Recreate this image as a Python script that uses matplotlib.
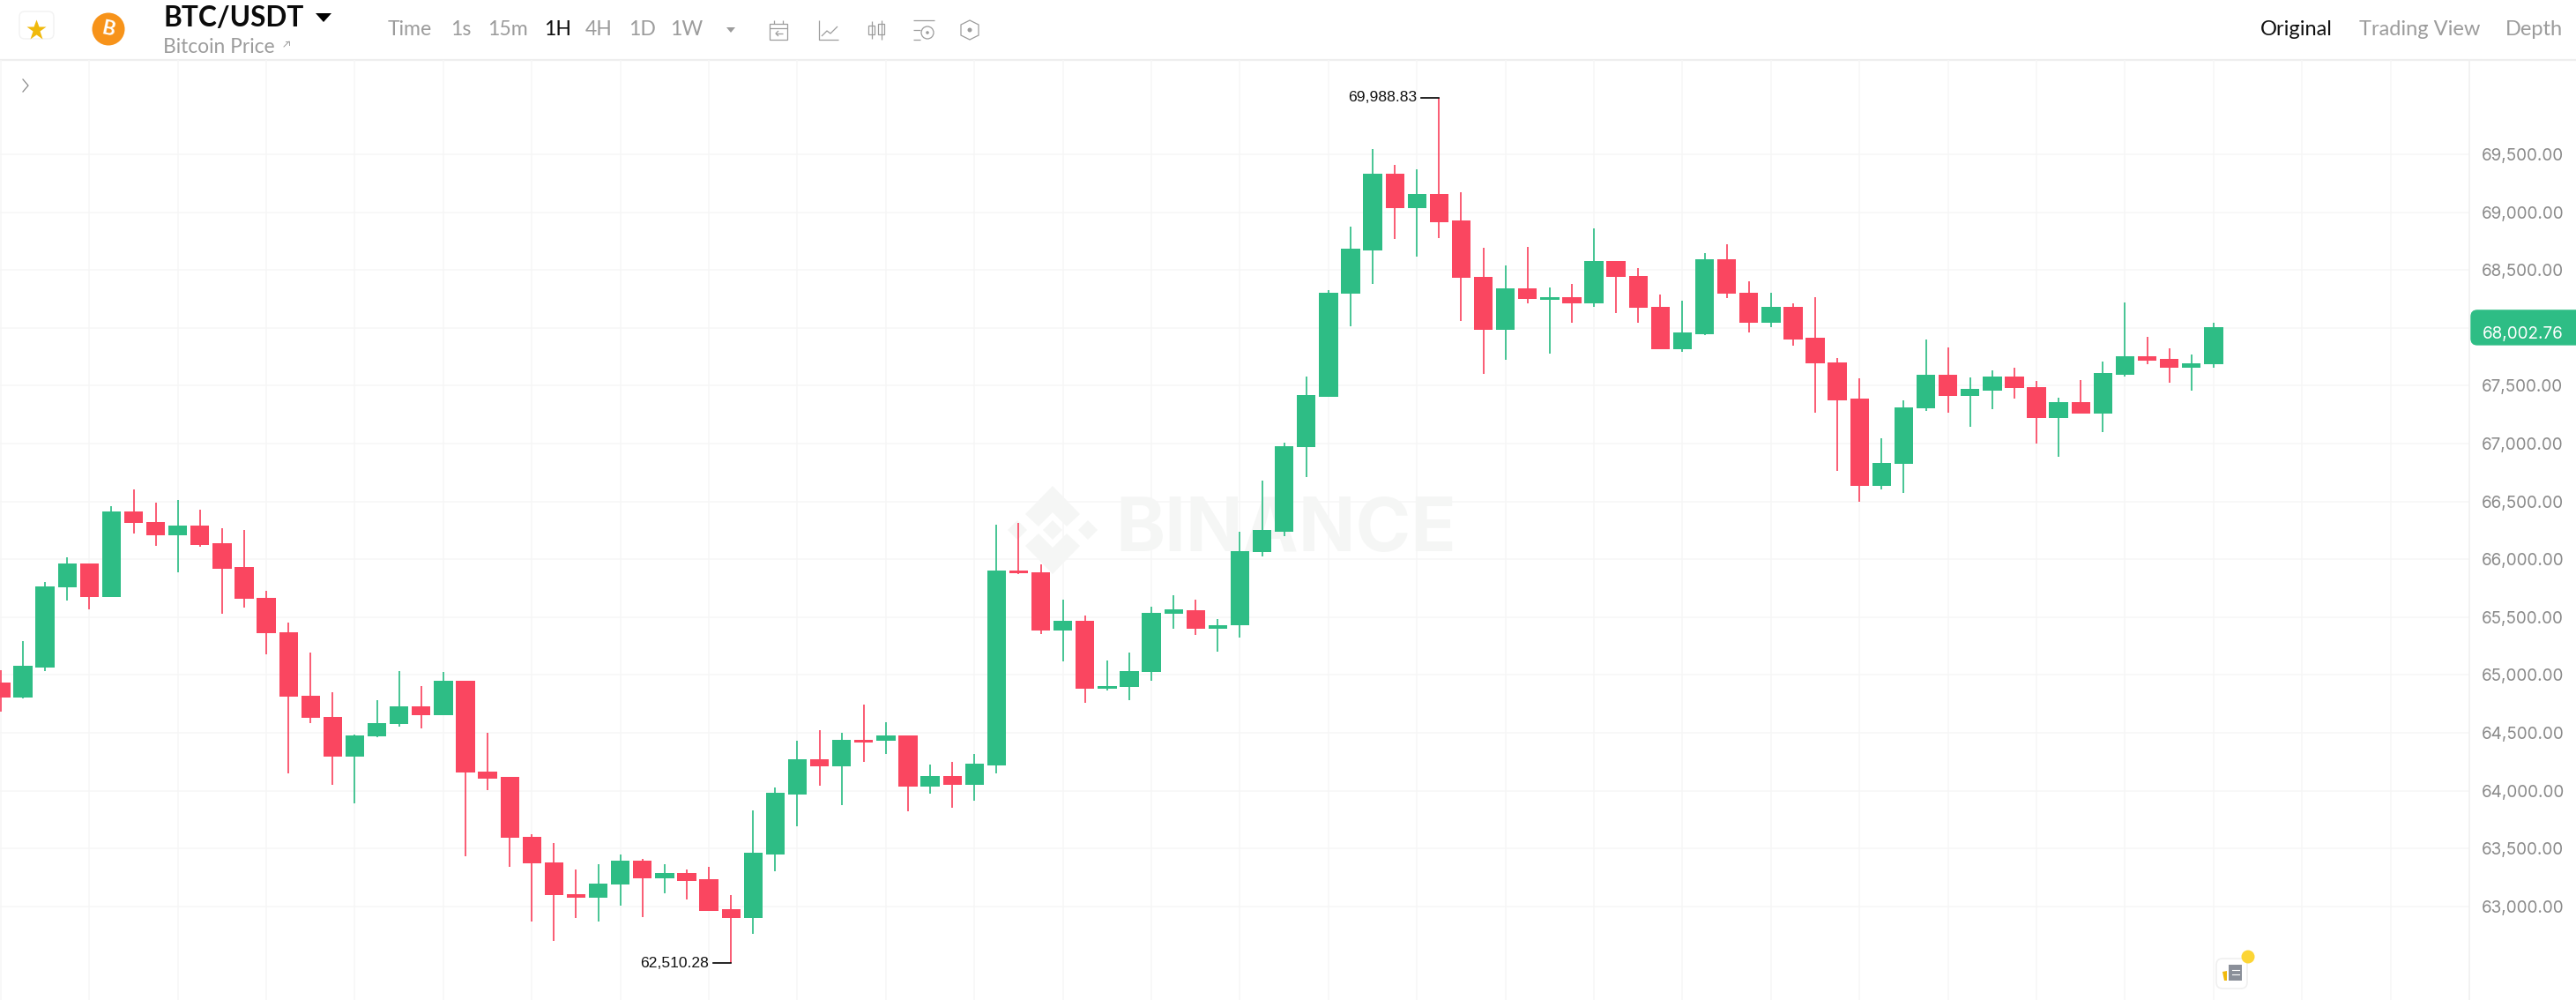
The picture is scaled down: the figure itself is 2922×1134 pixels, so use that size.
import matplotlib
matplotlib.use('Agg')
import matplotlib.pyplot as plt
from matplotlib.patches import FancyBboxPatch, Circle, Polygon, Rectangle

opens = [64939, 64807, 65068, 65755, 65964, 65675, 66414, 66324, 66204, 66288,
         66140, 65930, 65669, 65370, 64819, 64640, 64292, 64471, 64579, 64733,
         64653, 64948, 64166, 64117, 63600, 63384, 63110, 63076, 63190, 63399,
         63245, 63292, 63233, 62975, 62898, 63449, 63969, 64271, 64215, 64443,
         64431, 64480, 64037, 64129, 64052, 64218, 65903, 65890, 65388, 65465,
         64880, 64896, 65025, 65527, 65563, 65400, 65427, 66066, 66242, 66969,
         67407, 68294, 68671, 69334, 69035, 69154, 68926, 68440, 67982, 68342,
         68240, 68264, 68213, 68576, 68447, 68182, 67818, 67948, 68596, 68307,
         68046, 68178, 67911, 67703, 67386, 66637, 66822, 67305, 67594, 67409,
         67459, 67576, 67490, 67221, 67355, 67261, 67594, 67751, 67731, 67652,
         67685]
closes = [64803, 65078, 65764, 65964, 65675, 66414, 66315, 66204, 66288, 66127,
          65921, 65656, 65361, 64810, 64631, 64292, 64480, 64588, 64733, 64653,
          64948, 64157, 64108, 63593, 63375, 63101, 63076, 63196, 63399, 63245,
          63292, 63221, 62962, 62898, 63461, 63981, 64271, 64215, 64443, 64419,
          64480, 64037, 64129, 64052, 64231, 65903, 65881, 65388, 65465, 64880,
          64905, 65034, 65536, 65567, 65400, 65434, 66072, 66256, 66979, 67418,
          68304, 68681, 69334, 69035, 69154, 68916, 68430, 67982, 68342, 68247,
          68264, 68213, 68576, 68440, 68172, 67818, 67961, 68596, 68294, 68046,
          68178, 67901, 67690, 67376, 66637, 66830, 67315, 67594, 67409, 67470,
          67576, 67480, 67221, 67355, 67261, 67607, 67751, 67718, 67652, 67695,
          68002.76]
highs = [65041, 65296, 65804, 66017, 65964, 66460, 66602, 66488, 66512, 66432,
         66266, 66251, 65724, 65450, 65191, 64853, 64486, 64785, 65034, 64902,
         65025, 64948, 64499, 64117, 63627, 63550, 63322, 63369, 63446, 63412,
         63369, 63319, 63341, 63101, 63834, 64031, 64431, 64520, 64499, 64745,
         64591, 64480, 64228, 64246, 64320, 66300, 66312, 65958, 65653, 65512,
         65124, 65191, 65589, 65693, 65648, 65485, 66239, 66684, 67010, 67577,
         68328, 68878, 69548, 69405, 69371, 69988.83, 69174, 68695, 68539, 68698,
         68348, 68379, 68858, 68576, 68518, 68287, 68233, 68644, 68723, 68401,
         68305, 68213, 68269, 67741, 67566, 67043, 67373, 67901, 67830, 67574,
         67629, 67655, 67538, 67396, 67546, 67708, 68216, 67921, 67822, 67772,
         68048]
lows = [64686, 64797, 65034, 65644, 65567, 65675, 66223, 66115, 65887, 66106,
        65533, 65582, 65179, 64154, 64588, 64052, 63889, 64462, 64557, 64539,
        64653, 63436, 64003, 63344, 62870, 62700, 62901, 62867, 63011, 62910,
        63113, 63064, 62962, 62510.28, 62762, 63301, 63692, 64046, 63877, 64249,
        64320, 63821, 63972, 63855, 63911, 64148, 65872, 65352, 65118, 64757,
        64865, 64782, 64954, 65398, 65345, 65203, 65325, 66028, 66202, 66714,
        67407, 68015, 68376, 68766, 68617, 68773, 68056, 67601, 67727, 68213,
        67781, 68043, 68182, 68128, 68043, 67818, 67791, 67934, 68256, 67964,
        68008, 67848, 67264, 66761, 66498, 66602, 66574, 67284, 67269, 67147,
        67300, 67388, 66998, 66883, 67261, 67099, 67579, 67683, 67525, 67459,
        67655]
price_ticks = [63000, 63500, 64000, 64500, 65000, 65500, 66000, 66500, 67000,
               67500, 68000, 68500, 69000, 69500]
intervals = ['Time', '1s', '15m', '1H', '4H', '1D', '1W']
views = ['Original', 'Trading View', 'Depth']

W, H = 2922, 1134
GREEN = '#2EBD85'
RED = '#FA4660'
GREY = '#9C9C9C'
plt.rcParams['font.family'] = ['Lato', 'DejaVu Sans']

fig = plt.figure(figsize=(W / 200, H / 200), dpi=200, facecolor='white')

# pixel layer for the page furniture, sits under the chart
bg = fig.add_axes([0, 0, 1, 1], zorder=0)
bg.set_xlim(0, W)
bg.set_ylim(H, 0)
bg.axis('off')

# chart axes, starts under the header and stops at the price column
top, right = 68, 2801
ax = fig.add_axes([0, 0, right / W, (H - top) / H], zorder=1, facecolor='none')
ax.set_xlim(-0.036, 111.56)
ax.set_ylim(62192, 70315)

x = list(range(len(opens)))
ax.set_xticks(range(0, 112, 4))
ax.set_xticklabels([])
ax.set_yticks(price_ticks)
# the last price tag replaces the tick label it would cover
ax.set_yticklabels(['' if abs(p - closes[-1]) < 100 else f'{p:,.2f}' for p in price_ticks],
                   fontsize=6.8, color='#8A8A8A', family='Inter')
ax.yaxis.tick_right()
ax.tick_params(length=0, pad=5)
ax.grid(True, color='#F6F6F6', lw=0.55, zorder=0)
ax.set_axisbelow(True)
for s in ['top', 'left', 'bottom']:
    ax.spines[s].set_visible(False)
ax.spines['right'].set_color('#F0F0F0')
ax.spines['right'].set_linewidth(0.6)

colors = [GREEN if c >= o else RED for o, c in zip(opens, closes)]
ax.vlines(x, lows, highs, colors=colors, lw=0.62, zorder=2)
ax.bar(x, [abs(c - o) for o, c in zip(opens, closes)],
       bottom=[min(o, c) for o, c in zip(opens, closes)],
       width=0.85, color=colors, zorder=3)

# high / low markers
imax = highs.index(max(highs))
imin = lows.index(min(lows))
ax.plot([imax - 0.8, imax], [highs[imax]] * 2, color='black', lw=0.6, zorder=4)
ax.plot([imin - 0.8, imin], [lows[imin]] * 2, color='black', lw=0.6, zorder=4)
for i, p in [(imax, highs[imax]), (imin, lows[imin])]:
    ax.text(i - 1.02, p, f'{p:,.2f}', ha='right', va='center', fontsize=6.3,
            family='Liberation Sans', color='#111111', zorder=4)

# last price tag
tag_y = ax.transData.transform((0, closes[-1]))[1]
tag_y = H - tag_y * H / fig.bbox.height
bg.add_patch(FancyBboxPatch((2803, tag_y - 19.5), 130, 39,
                            boxstyle='round,pad=0,rounding_size=7',
                            fc=GREEN, ec=GREEN, lw=0.5, clip_on=True))
bg.text(2816, tag_y + 8, f'{closes[-1]:,.2f}', color='white', fontsize=6.8,
        family='Inter', va='center', ha='left')

# watermark
wm = '#F5F6F5'
for pts in [[(1194, 551), (1225, 583), (1210, 597), (1194, 581), (1178, 597), (1163, 583)],
            [(1194, 651), (1225, 619), (1210, 605), (1194, 621), (1178, 605), (1163, 619)],
            [(1194, 590), (1205, 601), (1194, 612), (1183, 601)],
            [(1143, 601), (1154, 590), (1165, 601), (1154, 612)],
            [(1223, 601), (1234, 590), (1245, 601), (1234, 612)]]:
    bg.add_patch(Polygon(pts, closed=True, fc=wm, ec='none'))
bg.text(1265, 602, 'BINANCE', color=wm, fontsize=30.5, fontweight='bold', family='Inter',
        va='center', ha='left')

# header
bg.plot([0, W], [68, 68], color='#EEEEEE', lw=0.8)
bg.add_patch(FancyBboxPatch((22, 13), 39, 31, boxstyle='round,pad=0,rounding_size=6',
                            fc='white', ec='#F2F2F2', lw=0.5))
bg.plot([41], [34], marker='*', ms=8.5, color='#F0B90B', mec='none')
bg.add_patch(Circle((123, 33), 18.5, fc='#F7931A', ec='none'))
bg.text(123, 33, 'B', color='white', fontsize=8, fontweight='bold', rotation=-12,
        ha='center', va='center')
bg.text(185, 21, 'BTC/USDT', color='#0B0B0B', fontsize=11.4, fontweight='bold',
        ha='left', va='center')
bg.add_patch(Polygon([(358, 15), (376, 15), (367, 25)], fc='black', ec='none'))
bg.text(185, 54, 'Bitcoin Price', color=GREY, fontsize=8.2, ha='left', va='center')
bg.plot([322, 328], [53, 47], color=GREY, lw=0.35)
bg.plot([324, 328, 328], [47, 47, 51], color=GREY, lw=0.35)

iv_x = [440, 511, 553, 617, 664, 713, 760]
for name, xp in zip(intervals, iv_x):
    bg.text(xp, 34, name, color='#111111' if name == '1H' else GREY, fontsize=8.3,
            ha='left', va='center')
bg.add_patch(Polygon([(824, 31), (834, 31), (829, 37)], fc=GREY, ec='none'))

icon = dict(color=GREY, lw=0.45, solid_capstyle='butt')
# calendar
bg.add_patch(Rectangle((873, 27), 20, 18, fc='none', ec=GREY, lw=0.45))
bg.plot([873, 893], [32, 32], **icon)
bg.plot([878, 878], [23, 27], **icon)
bg.plot([888, 888], [23, 27], **icon)
bg.plot([880, 888], [38, 38], **icon)
bg.plot([883, 880, 883], [35, 38, 41], **icon)
# line chart
bg.plot([929, 929, 951], [23, 45, 45], **icon)
bg.plot([932, 938, 942, 950], [41, 35, 38, 30], **icon)
# candles
bg.add_patch(Rectangle((985, 29), 7, 10, fc='none', ec=GREY, lw=0.45))
bg.add_patch(Rectangle((996, 27), 7, 12, fc='none', ec=GREY, lw=0.45))
bg.plot([988.5, 988.5], [24, 44], **icon)
bg.plot([999.5, 999.5], [23, 45], **icon)
# settings
bg.plot([1036, 1060], [23, 23], **icon)
bg.plot([1036, 1044], [34, 34], **icon)
bg.plot([1036, 1044], [45, 45], **icon)
bg.add_patch(Circle((1052, 37), 7, fc='none', ec=GREY, lw=0.45))
bg.add_patch(Circle((1052, 37), 1.8, fc=GREY, ec='none'))
# hexagon
bg.add_patch(Polygon([(1100, 23), (1110, 28), (1110, 40), (1100, 45), (1090, 40), (1090, 28)],
                     fc='none', ec=GREY, lw=0.45))
bg.add_patch(Circle((1100, 34), 2.5, fc=GREY, ec='none'))

for name, xp, col in zip(views, [2564, 2676, 2842], ['#111111', GREY, GREY]):
    bg.text(xp, 33, name, color=col, fontsize=8.5, ha='left', va='center')

# collapse chevron
bg.plot([26, 32, 26], [90, 97, 104], color='#8A8A8A', lw=0.45)

# news button bottom right
bg.add_patch(FancyBboxPatch((2514, 1087), 35, 34, boxstyle='round,pad=0,rounding_size=7',
                            fc='white', ec='#F0F0F0', lw=0.6))
bg.add_patch(Rectangle((2528, 1094), 15, 18, fc='#8A8F99', ec='none'))
bg.plot([2532, 2540], [1100, 1100], color='white', lw=0.4)
bg.plot([2532, 2540], [1105, 1105], color='white', lw=0.4)
bg.add_patch(Polygon([(2521, 1102), (2526, 1101), (2526, 1112), (2523, 1112)], fc='#F0B90B', ec='none'))
bg.add_patch(Circle((2550, 1085), 7.5, fc='#FCD535', ec='none'))

fig.savefig('out.png', dpi=200, facecolor='white')
